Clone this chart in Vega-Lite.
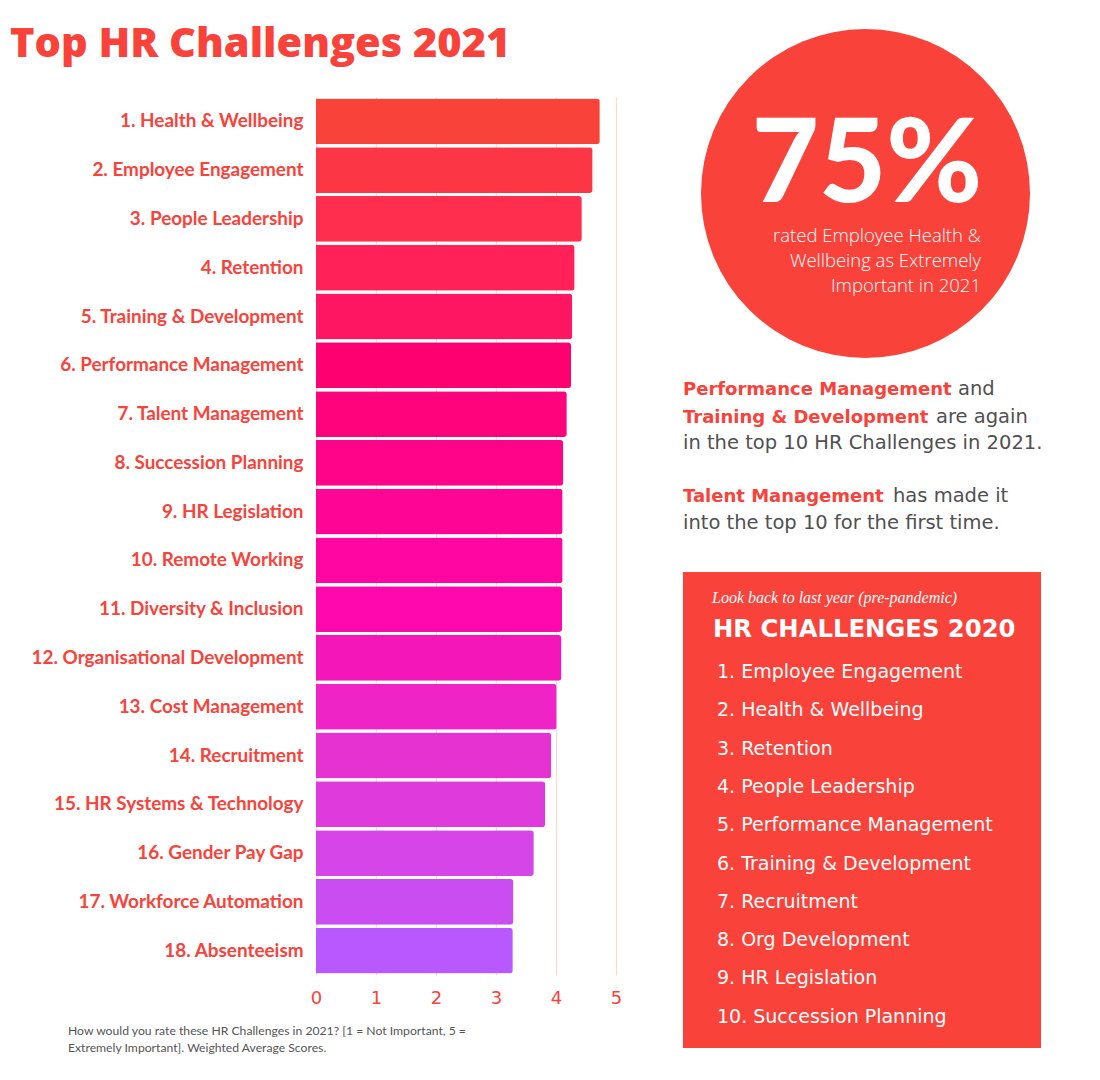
{
  "$schema": "https://vega.github.io/schema/vega-lite/v6.json",
  "autosize": {"type": "none"},
  "width": 300,
  "height": 878,
  "padding": {"left": 316, "top": 97, "right": 484, "bottom": 105},
  "background": "white",
  "config": {"view": {"stroke": null}},
  "layer": [
    {
      "data": {"values": [
        {"challenge": "1. Health & Wellbeing", "score": 4.73},
        {"challenge": "2. Employee Engagement", "score": 4.61},
        {"challenge": "3. People Leadership", "score": 4.43},
        {"challenge": "4. Retention", "score": 4.31},
        {"challenge": "5. Training & Development", "score": 4.27},
        {"challenge": "6. Performance Management", "score": 4.25},
        {"challenge": "7. Talent Management", "score": 4.18},
        {"challenge": "8. Succession Planning", "score": 4.12},
        {"challenge": "9. HR Legislation", "score": 4.11},
        {"challenge": "10. Remote Working", "score": 4.11},
        {"challenge": "11. Diversity & Inclusion", "score": 4.10},
        {"challenge": "12. Organisational Development", "score": 4.09},
        {"challenge": "13. Cost Management", "score": 4.01},
        {"challenge": "14. Recruitment", "score": 3.92},
        {"challenge": "15. HR Systems & Technology", "score": 3.82},
        {"challenge": "16. Gender Pay Gap", "score": 3.63},
        {"challenge": "17. Workforce Automation", "score": 3.29},
        {"challenge": "18. Absenteeism", "score": 3.28}
      ]},
      "mark": {"type": "bar", "cornerRadiusEnd": 3},
      "encoding": {
        "y": {
          "field": "challenge", "type": "nominal", "sort": null,
          "scale": {"paddingInner": 0.06, "paddingOuter": 0.03},
          "axis": {"title": null, "domain": false, "ticks": false, "labelFont": "Lato", "labelFontWeight": "bold", "labelFontSize": 18.9, "labelColor": "#F9423A", "labelPadding": 13, "labelLimit": 0}
        },
        "x": {
          "field": "score", "type": "quantitative",
          "scale": {"domain": [0, 5], "nice": false},
          "axis": {"title": null, "domain": false, "ticks": false, "values": [0, 1, 2, 3, 4, 5], "grid": true, "gridColor": "#FDD6D6", "gridWidth": 1.2, "labelFlush": false, "labelFont": "DejaVu Sans", "labelFontSize": 18, "labelColor": "#F9423A", "labelPadding": 14}
        },
        "color": {
          "field": "challenge", "type": "nominal", "sort": null, "legend": null,
          "scale": {"range": ["#F9423A", "#FC3645", "#FF2D4E", "#FF2158", "#FF1663", "#FF0070", "#FF037D", "#FF0489", "#FF0595", "#FF05A2", "#FF08AE", "#F516BA", "#EE24C6", "#E732D2", "#DF3ADC", "#D545E8", "#C94DF0", "#BA58FF"]}
        }
      }
    },
    {
      "data": {"values": [{"t": "Top HR Challenges 2021"}]},
      "mark": {"type": "text", "x": -306, "y": -40, "align": "left", "baseline": "alphabetic", "font": "Open Sans", "fontWeight": 800, "fontSize": 41.5, "color": "#F9423A"},
      "encoding": {"text": {"field": "t"}}
    },
    {
      "data": {"values": [{}]},
      "mark": {"type": "point", "shape": "circle", "filled": true, "opacity": 1, "size": 108241, "x": 549.5, "y": 96.5, "color": "#F9423A"}
    },
    {
      "data": {"values": [{"t": "75%"}]},
      "mark": {"type": "text", "x": 551, "y": 105, "align": "center", "baseline": "alphabetic", "font": "Lato", "fontWeight": 900, "fontSize": 116, "color": "white"},
      "encoding": {"text": {"field": "t"}}
    },
    {
      "data": {"values": [{}]},
      "mark": {"type": "text", "x": 665, "y": 145, "align": "right", "baseline": "alphabetic", "font": "Open Sans", "fontWeight": 300, "fontSize": 18.5, "lineHeight": 25, "color": "white", "text": ["rated Employee Health &", "Wellbeing as Extremely", "Important in 2021"]}
    },
    {
      "data": {"values": [{"t": "Performance Management"}]},
      "mark": {"type": "text", "x": 367, "y": 298, "align": "left", "baseline": "alphabetic", "font": "DejaVu Sans", "fontWeight": "bold", "fontSize": 18, "color": "#F9423A"},
      "encoding": {"text": {"field": "t"}}
    },
    {
      "data": {"values": [{"t": "Training & Development"}]},
      "mark": {"type": "text", "x": 367, "y": 326, "align": "left", "baseline": "alphabetic", "font": "DejaVu Sans", "fontWeight": "bold", "fontSize": 18, "color": "#F9423A"},
      "encoding": {"text": {"field": "t"}}
    },
    {
      "data": {"values": [{"t": "Talent Management"}]},
      "mark": {"type": "text", "x": 367, "y": 405, "align": "left", "baseline": "alphabetic", "font": "DejaVu Sans", "fontWeight": "bold", "fontSize": 18, "color": "#F9423A"},
      "encoding": {"text": {"field": "t"}}
    },
    {
      "data": {"values": [{"t": "and"}]},
      "mark": {"type": "text", "x": 642, "y": 298, "align": "left", "baseline": "alphabetic", "font": "DejaVu Sans", "fontSize": 19.5, "color": "#505050"},
      "encoding": {"text": {"field": "t"}}
    },
    {
      "data": {"values": [{"t": "are again"}]},
      "mark": {"type": "text", "x": 620, "y": 326, "align": "left", "baseline": "alphabetic", "font": "DejaVu Sans", "fontSize": 19.5, "color": "#505050"},
      "encoding": {"text": {"field": "t"}}
    },
    {
      "data": {"values": [{"t": "in the top 10 HR Challenges in 2021."}]},
      "mark": {"type": "text", "x": 367, "y": 352, "align": "left", "baseline": "alphabetic", "font": "DejaVu Sans", "fontSize": 19.5, "color": "#505050"},
      "encoding": {"text": {"field": "t"}}
    },
    {
      "data": {"values": [{"t": "has made it"}]},
      "mark": {"type": "text", "x": 577, "y": 405, "align": "left", "baseline": "alphabetic", "font": "DejaVu Sans", "fontSize": 19.5, "color": "#505050"},
      "encoding": {"text": {"field": "t"}}
    },
    {
      "data": {"values": [{"t": "into the top 10 for the first time."}]},
      "mark": {"type": "text", "x": 367, "y": 432, "align": "left", "baseline": "alphabetic", "font": "DejaVu Sans", "fontSize": 19.5, "color": "#505050"},
      "encoding": {"text": {"field": "t"}}
    },
    {
      "data": {"values": [{}]},
      "mark": {"type": "rect", "x": 367, "x2": 725, "y": 475, "y2": 951, "color": "#F9423A"}
    },
    {
      "data": {"values": [{"t": "Look back to last year (pre-pandemic)"}]},
      "mark": {"type": "text", "x": 396, "y": 506, "align": "left", "baseline": "alphabetic", "font": "Liberation Serif", "fontStyle": "italic", "fontSize": 16, "color": "white"},
      "encoding": {"text": {"field": "t"}}
    },
    {
      "data": {"values": [{"t": "HR CHALLENGES 2020"}]},
      "mark": {"type": "text", "x": 397, "y": 540, "align": "left", "baseline": "alphabetic", "font": "DejaVu Sans", "fontWeight": "bold", "fontSize": 24.3, "color": "white"},
      "encoding": {"text": {"field": "t"}}
    },
    {
      "data": {"values": [{}]},
      "mark": {"type": "text", "x": 401, "y": 581, "align": "left", "baseline": "alphabetic", "font": "DejaVu Sans", "fontSize": 19, "lineHeight": 38.3, "color": "white", "text": ["1. Employee Engagement", "2. Health & Wellbeing", "3. Retention", "4. People Leadership", "5. Performance Management", "6. Training & Development", "7. Recruitment", "8. Org Development", "9. HR Legislation", "10. Succession Planning"]}
    },
    {
      "data": {"values": [{}]},
      "mark": {"type": "text", "x": -248, "y": 938, "align": "left", "baseline": "alphabetic", "font": "Lato", "fontSize": 12.2, "lineHeight": 17, "color": "#555555", "text": ["How would you rate these HR Challenges in 2021? [1 = Not Important, 5 =", "Extremely Important]. Weighted Average Scores."]}
    }
  ]
}
